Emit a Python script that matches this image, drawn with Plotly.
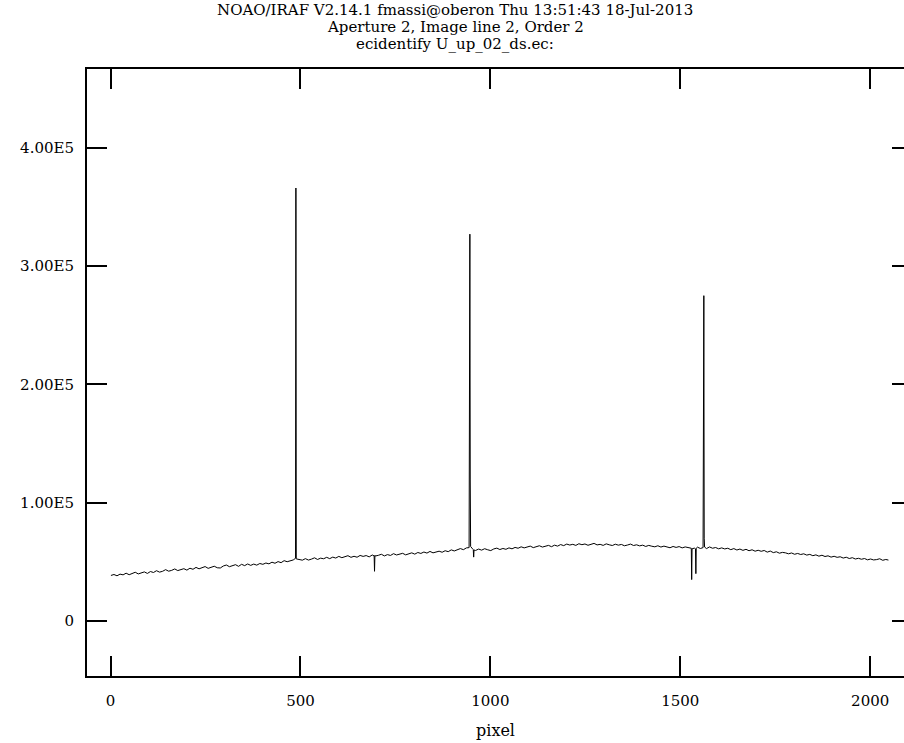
import plotly.graph_objects as go

# continuum samples every 8 pixels (flux in units of 1e3 counts)
cont_px = [1 + 8 * i for i in range(256)] + [2048]
cont_k = [
    38.5, 39.3, 38.2, 39.6, 39.0, 40.4, 39.1, 40.0, 41.2, 39.8, 40.6, 41.5,
    40.2, 41.8, 41.0, 42.5, 41.3, 42.0, 43.4, 42.1, 42.8, 44.0, 42.6, 43.5,
    44.2, 43.0, 44.6, 43.7, 45.3, 44.1, 44.9, 46.0, 44.5, 45.2, 46.3, 45.0,
    44.8, 46.5, 47.3, 45.9, 46.8, 47.6, 46.2, 47.9, 46.8, 48.2, 47.0, 48.1,
    47.2, 48.6, 47.9, 49.0, 48.3, 49.7, 48.8, 50.2, 49.3, 51.0, 50.1, 50.8,
    51.6, 50.8, 52.0, 51.4, 52.7, 51.5, 52.3, 53.4, 52.0, 53.1, 52.6, 53.8,
    52.7, 54.0, 53.2, 54.6, 53.5, 54.1, 55.2, 53.8, 54.7, 53.9, 55.4, 54.6,
    55.3, 54.2, 55.8, 54.9, 55.5, 56.4, 55.0, 56.1, 55.4, 56.9, 55.8, 56.6,
    57.2, 55.9, 56.8, 57.6, 56.5, 57.9, 57.1, 58.3, 57.4, 58.8, 57.6, 58.4,
    59.0, 58.1, 59.4, 58.6, 60.1, 59.2, 60.5, 61.2, 60.3, 61.8, 62.4, 61.0,
    59.6, 60.8, 59.9, 61.1, 60.2, 59.5, 60.9, 61.6, 60.4, 61.3, 60.6, 61.8,
    61.0, 62.2, 61.5, 62.7, 61.8, 62.4, 63.3, 62.0, 62.9, 63.6, 62.5, 63.4,
    63.9, 62.8, 64.1, 63.3, 64.6, 63.7, 65.0, 64.2, 64.8, 63.9, 65.3, 64.5,
    65.1, 64.0, 64.9, 65.6, 64.3, 64.8, 63.9, 65.2, 64.4, 63.8, 64.9, 64.1,
    64.7, 63.6, 64.2, 65.0, 63.8, 64.4, 63.5, 64.1, 63.0, 63.9, 63.2, 62.7,
    63.6, 62.5, 63.3, 62.8, 61.9, 63.0, 62.2, 62.9, 61.8, 62.6, 61.9, 62.8,
    61.6, 62.4, 61.3, 62.0, 61.2, 62.6, 61.5, 62.1, 61.0, 61.8, 60.9, 61.5,
    60.3, 61.2, 60.0, 60.8, 59.7, 60.6, 59.4, 60.2, 59.0, 59.8, 58.9, 59.6,
    58.2, 59.1, 57.8, 58.5, 57.3, 58.0, 57.6, 56.8, 57.5, 56.4, 57.1, 56.2,
    56.8, 55.7, 56.3, 55.2, 55.9, 54.8, 55.6, 54.5, 55.1, 54.0, 54.7, 53.8,
    54.3, 53.2, 53.9, 52.8, 53.5, 52.4, 53.0, 52.2, 52.8, 51.7, 52.4, 51.6,
    51.9, 52.6, 51.3, 52.0, 51.5]

# emission lines and bad columns (pixel, flux in 1e3 counts)
line_px = [487, 488, 489, 694, 695, 696,
           944, 945, 946, 947, 948, 955, 956, 957,
           1529, 1530, 1531, 1540, 1541, 1542,
           1560, 1561, 1562, 1563, 1564]
line_k = [53.0, 366.0, 52.5, 55.0, 42.0, 55.5,
          62.0, 133.0, 327.0, 120.0, 63.0, 60.5, 54.0, 60.0,
          61.5, 35.0, 61.0, 61.0, 40.0, 61.5,
          62.0, 188.0, 275.0, 70.0, 62.5]

ytick_vals = [0, 100000, 200000, 300000, 400000]
ytick_text = ["0", "1.00E5", "2.00E5", "3.00E5", "4.00E5"]
xtick_vals = [0, 500, 1000, 1500, 2000]

title_lines = ["NOAO/IRAF V2.14.1 fmassi@oberon Thu 13:51:43 18-Jul-2013",
               "Aperture 2, Image line 2, Order 2",
               "ecidentify U_up_02_ds.ec:"]

# merge
pts = {}
for p, v in zip(cont_px, cont_k):
    pts[p] = v
for p, v in zip(line_px, line_k):
    pts[p] = v
xs = sorted(pts)
ys = [pts[p] * 1000 for p in xs]

W, H = 904, 743
L, R, T, B = 87, 0, 69, 67
FONT = "DejaVu Serif"

fig = go.Figure()
fig.add_trace(go.Scatter(x=xs, y=ys, mode="lines",
                         line=dict(color="black", width=1), showlegend=False))
# invisible trace to carry the right-hand tick axis
fig.add_trace(go.Scatter(x=[xs[0]], y=[ys[0]], yaxis="y2", mode="markers",
                         marker=dict(opacity=0), showlegend=False,
                         hoverinfo="skip"))

yr = [-46500, 466600]
fig.update_layout(
    width=W, height=H,
    margin=dict(l=L, r=R, t=T, b=B, pad=0),
    paper_bgcolor="white", plot_bgcolor="white",
    font=dict(family=FONT, color="black", size=15),
    xaxis=dict(range=[-62, 2089], tickvals=xtick_vals,
               ticks="inside", ticklen=20, tickwidth=2, tickcolor="black",
               showline=True, linewidth=2, linecolor="black", mirror="ticks",
               showgrid=False, zeroline=False,
               ticklabelstandoff=10,
               tickfont=dict(family=FONT, size=15),
               title=dict(text="pixel", standoff=16,
                          font=dict(family=FONT, size=16))),
    yaxis=dict(range=yr, tickvals=ytick_vals, ticktext=ytick_text,
               ticks="inside", ticklen=20, tickwidth=2, tickcolor="black",
               showline=True, linewidth=2, linecolor="black",
               showgrid=False, zeroline=False,
               ticklabelstandoff=8,
               tickfont=dict(family=FONT, size=15)),
    yaxis2=dict(range=yr, tickvals=ytick_vals, overlaying="y", side="right",
                ticks="inside", ticklen=12, tickwidth=2, tickcolor="black",
                showticklabels=False, showline=False,
                showgrid=False, zeroline=False),
)

plot_h = H - T - B
for txt, ypix in zip(title_lines, [10, 27, 44]):
    fig.add_annotation(text=txt, xref="paper", yref="paper",
                       x=(455 - L) / (W - L - R), y=(H - B - ypix) / plot_h,
                       xanchor="center", yanchor="middle", showarrow=False,
                       font=dict(family=FONT, size=15, color="black"))

fig.write_html("out.html")
